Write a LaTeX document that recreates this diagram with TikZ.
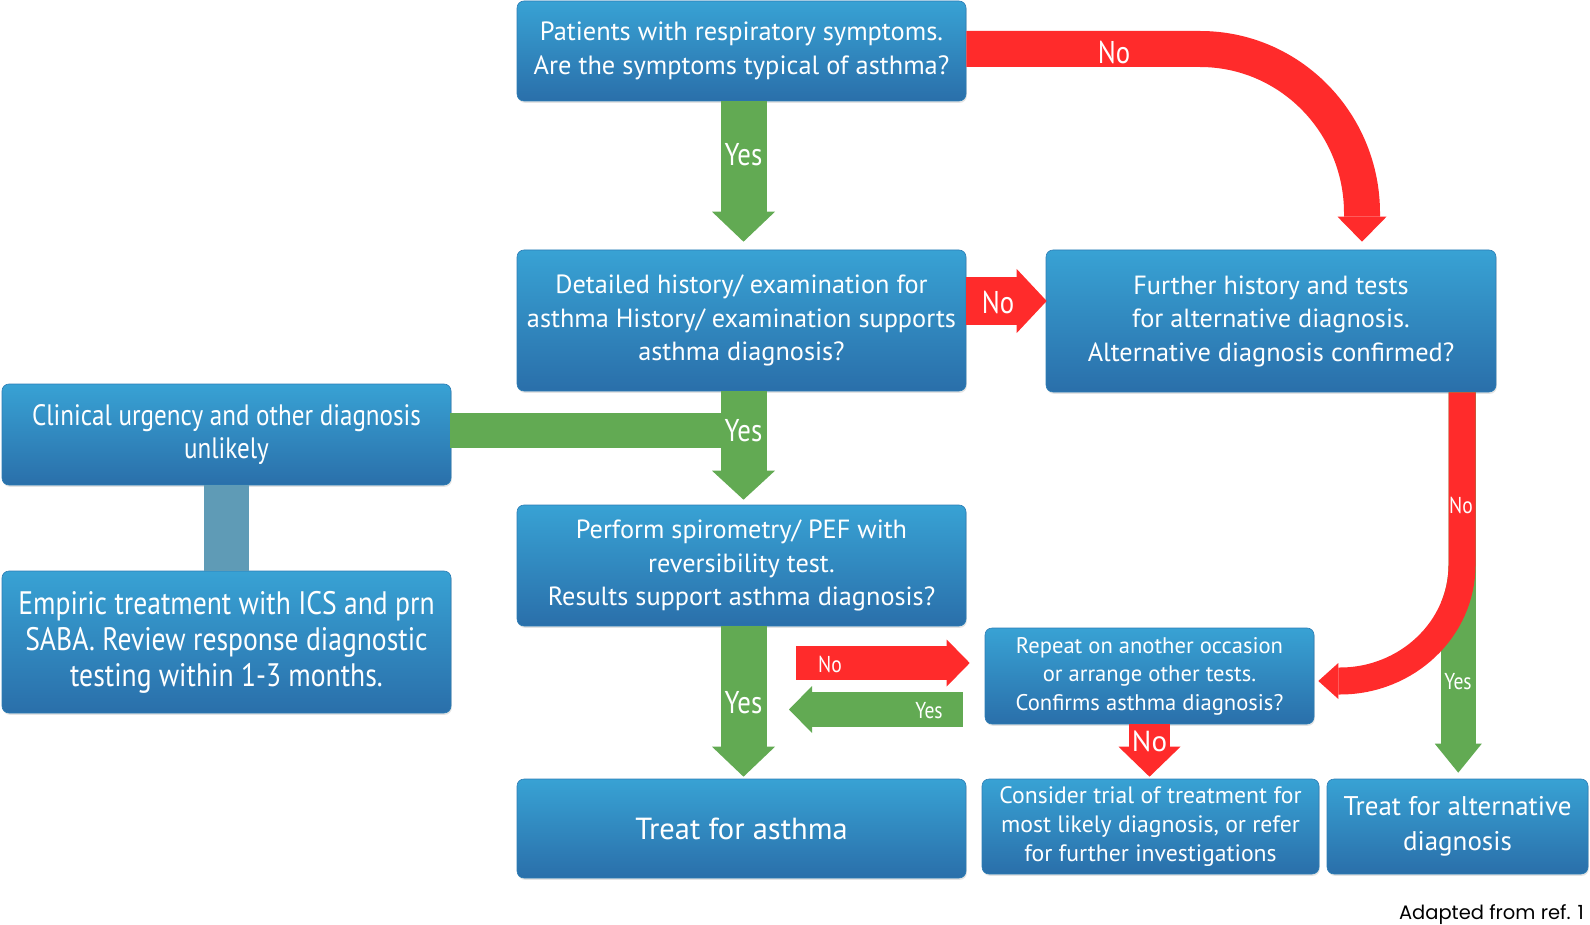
\documentclass[tikz,border=0pt]{standalone}
\usepackage{fontspec}
\setmainfont{PT Sans}
\newfontfamily\cond[FakeStretch=0.85]{PT Sans}
\newfontfamily\capt{Poppins}
\usetikzlibrary{arrows.meta,calc,shadows}
\definecolor{boxtop}{HTML}{38A2D4}
\definecolor{boxbot}{HTML}{2A6FAA}
\definecolor{boxedge}{HTML}{2C7DB5}
\definecolor{ared}{HTML}{FF2B2B}
\definecolor{agreen}{HTML}{62AA53}
\definecolor{asteel}{HTML}{5F9BB6}
\tikzset{
  box/.style={rounded corners=7pt, top color=boxtop, bottom color=boxbot, draw=boxedge, line width=0.6pt,
    text=white, align=center, inner sep=0pt,
    drop shadow={opacity=0.22, shadow xshift=0.8pt, shadow yshift=-1.8pt}},
  blk/.style={line cap=butt, line join=miter},
  lbl/.style={text=white, inner sep=0pt, font=\cond\fontsize{31.5}{31.5}\selectfont},
  slbl/.style={text=white, inner sep=0pt, font=\cond\fontsize{23}{23}\selectfont},
}
\begin{document}
\begin{tikzpicture}[x=1pt,y=-1pt]
\useasboundingbox (0,0) rectangle (1590,925);

% ---------------- boxes ----------------
\node[box, minimum width=449pt, minimum height=100pt, font=\fontsize{26.4}{33.5}\selectfont] (b1) at (741.5,51)
  {Patients with respiratory symptoms.\\Are the symptoms typical of asthma?};
\node[box, minimum width=449pt, minimum height=141pt, font=\fontsize{26.3}{33.5}\selectfont] (b2) at (741.5,320.5)
  {Detailed history/ examination for\\asthma History/ examination supports\\asthma diagnosis?};
\node[box, minimum width=450pt, minimum height=142pt, font=\fontsize{26.3}{33.5}\selectfont] (b3) at (1271,321)
  {Further history and tests\\for alternative diagnosis.\\Alternative diagnosis confirmed?};
\node[box, minimum width=449pt, minimum height=101pt, font=\cond\fontsize{29.5}{33.5}\selectfont] (b4) at (226.5,434.5)
  {Clinical urgency and other diagnosis\\unlikely};
\node[box, minimum width=449pt, minimum height=142pt, font=\cond\fontsize{32.5}{36}\selectfont] (b5) at (226.5,642)
  {Empiric treatment with ICS and prn\\SABA. Review response diagnostic\\testing within 1-3 months.};
\node[box, minimum width=449pt, minimum height=121pt, font=\fontsize{26.3}{33.5}\selectfont] (b6) at (741.5,565.5)
  {Perform spirometry/ PEF with\\reversibility test.\\Results support asthma diagnosis?};
\node[box, minimum width=329pt, minimum height=96pt, font=\fontsize{22.6}{28.4}\selectfont] (b7) at (1149.5,676)
  {Repeat on another occasion\\or arrange other tests.\\Confirms asthma diagnosis?};
\node[box, minimum width=449pt, minimum height=99pt, font=\fontsize{30.5}{36}\selectfont] (b8) at (741.5,828.5)
  {Treat for asthma};
\node[box, minimum width=337pt, minimum height=95pt, font=\fontsize{23.7}{29}\selectfont] (b9) at (1150.5,826.5)
  {Consider trial of treatment for\\most likely diagnosis, or refer\\for further investigations};
\node[box, minimum width=261pt, minimum height=95pt, font=\fontsize{27}{34.5}\selectfont] (b10) at (1457.5,826.5)
  {Treat for alternative\\diagnosis};

% ---------------- connectors ----------------
% b4 -> b5 plain connector
\draw[blk, asteel, line width=45pt] (b4.south) -- (b5.north);

% top: Yes (b1 -> b2)
\draw[blk, agreen, line width=46pt, -{Triangle[width=63pt,length=30pt,line width=0pt]}]
  ($(b1.south)+(2,0)$) -- ($(b2.north)+(2,-8)$)
  node[lbl, pos=0.38] {Yes};

% top: No (b1 -> b3), curved
\draw[blk, ared, line width=36pt, -{Triangle[width=49pt,length=25pt,line width=0pt]}]
  ($(b1.east)+(0,-2)$) -- (1200,49) .. controls (1290,49) and (1362,123) .. (1362,213) -- ($(b3.north)+(91,-8)$);
\node[lbl] (lno1) at (1114,52) {No};

% b2 -> b3 No
\draw[blk, ared, line width=47pt, -{Triangle[width=64pt,length=30pt,line width=0pt]}]
  ($(b2.east)+(0,-19.5)$) -- ($(b3.west)+(1,-20)$);
\node[lbl] (lno2) at (998,302) {No};

% b4 band joining b2 -> b6 Yes
\coordinate (j1) at (743.5,430);
\draw[blk, agreen, line width=35pt] ($(b4.east)+(-1,-4.5)$) -- (j1);
\draw[blk, agreen, line width=46pt, -{Triangle[width=63pt,length=29pt,line width=0pt]}]
  ($(b2.south)+(2,0)$) -- ($(b6.north)+(2,-5)$);
\node[lbl] (lyes2) at (743.5,431) {Yes};

% b6 -> b8 Yes
\draw[blk, agreen, line width=46pt, -{Triangle[width=63pt,length=30pt,line width=0pt]}]
  ($(b6.south)+(2,0)$) -- ($(b8.north)+(2,-2)$);
\node[lbl] (lyes3) at (743.5,703) {Yes};

% b6 -> b7 No (short red)
\coordinate (n1) at (796,663);
\draw[blk, ared, line width=34pt, -{Triangle[width=47pt,length=23pt,line width=0pt]}]
  (n1) -- ($(b7.west)+(-15,-13)$);
\node[slbl] (lno3) at (830,664) {No};

% b7 -> back Yes (short green)
\coordinate (y1) at (789,709.5);
\draw[blk, agreen, line width=35pt, -{Triangle[width=47pt,length=23pt,line width=0pt]}]
  ($(b7.west)+(-22,33.5)$) -- (y1);
\node[slbl] (lyes4) at (929,711) {Yes};

% b7 -> b9 No
\draw[blk, ared, line width=41pt, -{Triangle[width=62pt,length=30pt,line width=0pt]}]
  (b7.south) -- ($(b9.north)+(-1,-2)$);
\node[text=white, inner sep=0pt, font=\fontsize{29}{29}\selectfont] (lno4) at (1149.5,741) {No};

% b3 -> b10 Yes (green, emerges from under the red curve)
\begin{scope}
  \clip (1448.5,392) -- (1448.5,565) .. controls (1448.5,622) and (1400,667.5) .. (1340,667.5)
        -- (1340,800) -- (1520,800) -- (1520,392) -- cycle;
  \draw[blk, agreen, line width=34.5pt, -{Triangle[width=47pt,length=29pt,line width=0pt]}]
    ($(b3.south)+(187.25,0)$) -- ($(b10.north)+(0.75,-6)$);
\end{scope}
\node[slbl] (lyes5) at (1458,682) {Yes};

% b3 -> b7 No (red curve on top)
\draw[blk, ared, line width=27pt, -{Triangle[width=36pt,length=20pt,line width=0pt]}]
  ($(b3.south)+(191,0)$) -- (1462,565) .. controls (1462,629) and (1407,681) .. (1340,681) -- ($(b7.east)+(4,5)$);
\node[slbl] (lno5) at (1461,505) {No};

% caption
\node[anchor=base east, inner sep=0pt, font=\capt\fontsize{19.5}{19.5}\selectfont, text=black] (cap) at (1584,919) {Adapted from ref. 1};
\end{tikzpicture}
\end{document}
